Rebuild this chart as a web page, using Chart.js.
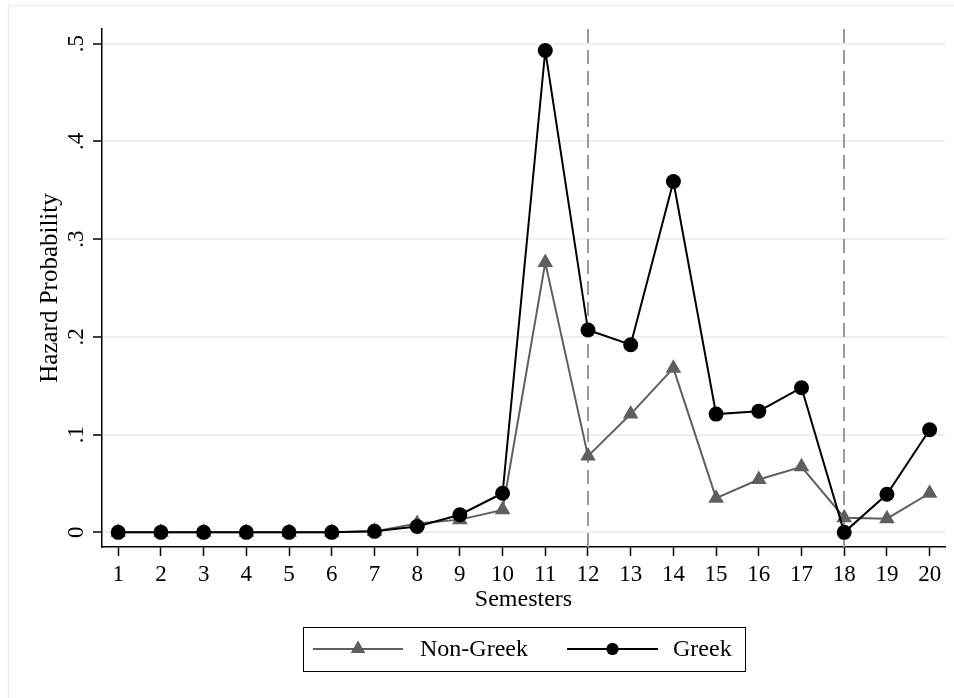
<!DOCTYPE html>
<html>
<head>
<meta charset="utf-8">
<script src="https://cdn.jsdelivr.net/npm/chart.js@4"></script>
<style>
  html, body { margin: 0; padding: 0; background: #fff; }
  #wrap { width: 954px; height: 698px; position: relative; }
</style>
</head>
<body>
<div id="wrap"><canvas id="chart"></canvas></div>
<script>
// values
const semesters = [1, 2, 3, 4, 5, 6, 7, 8, 9, 10, 11, 12, 13, 14, 15, 16, 17, 18, 19, 20];
const greek    = [0, 0, 0, 0, 0, 0, 0.001, 0.006, 0.018, 0.040, 0.493, 0.207, 0.192, 0.359, 0.121, 0.124, 0.148, 0.000, 0.039, 0.105];
const nonGreek = [0, 0, 0, 0, 0, 0, 0.001, 0.009, 0.013, 0.023, 0.276, 0.078, 0.121, 0.168, 0.035, 0.054, 0.067, 0.015, 0.014, 0.040];
const yTicks = [0, 0.1, 0.2, 0.3, 0.4, 0.5];
const refLines = [12, 18];

const FONT = '"Liberation Serif", "Times New Roman", serif';

function fmtY(v) {
  const s = (Math.round(v * 10) / 10).toString();
  return s === '0' ? '0' : s.replace(/^0/, '');
}

// background + faint outer frame, dashed reference lines, rotated y labels, boxed legend
const decor = {
  id: 'decor',
  beforeDraw(chart) {
    const c = chart.ctx;
    c.save();
    c.fillStyle = '#fff';
    c.fillRect(0, 0, chart.width, chart.height);
    c.strokeStyle = '#e9eff1';
    c.lineWidth = 1.5;
    c.strokeRect(8.5, 5.5, chart.width + 20, chart.height + 20);
    c.restore();
  },
  beforeDatasetsDraw(chart) {
    const c = chart.ctx, x = chart.scales.x, area = chart.chartArea;
    c.save();
    c.strokeStyle = '#9a9a9a';
    c.lineWidth = 2;
    c.setLineDash([14, 7]);
    refLines.forEach(v => {
      const px = Math.round(x.getPixelForValue(v));
      c.beginPath();
      c.moveTo(px, area.top);
      c.lineTo(px, area.bottom);
      c.stroke();
    });
    c.restore();
  },
  afterDraw(chart) {
    const c = chart.ctx, y = chart.scales.y;
    c.save();
    // y tick labels, rotated like the original
    c.fillStyle = '#000';
    c.font = '23px ' + FONT;
    c.textAlign = 'center';
    c.textBaseline = 'middle';
    y.ticks.forEach(t => {
      c.save();
      c.translate(77, y.getPixelForValue(t.value));
      c.rotate(-Math.PI / 2);
      c.fillText(fmtY(t.value), 0, 0);
      c.restore();
    });

    // legend
    const bx = 303, by = 627, bw = 442, bh = 44, my = by + bh / 2;
    c.strokeStyle = '#000';
    c.lineWidth = 1;
    c.strokeRect(bx + 0.5, by + 0.5, bw, bh);
    c.font = '24px ' + FONT;
    c.textAlign = 'left';
    const items = [
      { ds: chart.data.datasets[1], x0: 313, x1: 403, tx: 420 },
      { ds: chart.data.datasets[0], x0: 567, x1: 658, tx: 673 }
    ];
    items.forEach(it => {
      c.strokeStyle = it.ds.borderColor;
      c.lineWidth = it.ds.borderWidth;
      c.beginPath();
      c.moveTo(it.x0, my);
      c.lineTo(it.x1, my);
      c.stroke();
      Chart.helpers.drawPoint(c, {
        pointStyle: it.ds.pointStyle, radius: it.ds.legendRadius, rotation: 0, borderWidth: 0
      }, (it.x0 + it.x1) / 2, my);
      c.fillStyle = it.ds.pointBackgroundColor;
      c.fill();
      c.fillStyle = '#000';
      c.fillText(it.ds.label, it.tx, my + 1);
    });
    c.restore();
  }
};

new Chart(document.getElementById('chart'), {
  type: 'line',
  data: {
    labels: semesters,
    datasets: [
      {
        label: 'Greek',
        data: semesters.map((s, i) => ({ x: s, y: greek[i] })),
        borderColor: '#000',
        backgroundColor: '#000',
        pointBackgroundColor: '#000',
        pointBorderWidth: 0,
        borderWidth: 2,
        pointStyle: 'circle',
        pointRadius: 7.5,
        legendRadius: 6,
        tension: 0
      },
      {
        label: 'Non-Greek',
        data: semesters.map((s, i) => ({ x: s, y: nonGreek[i] })),
        borderColor: '#5f5f5f',
        backgroundColor: '#5f5f5f',
        pointBackgroundColor: '#5f5f5f',
        pointBorderWidth: 0,
        borderWidth: 2,
        pointStyle: 'triangle',
        pointRadius: 9,
        legendRadius: 8,
        tension: 0
      }
    ]
  },
  options: {
    responsive: true,
    maintainAspectRatio: false,
    animation: false,
    layout: { padding: { top: 29, right: 9, bottom: 71, left: 0 } },
    plugins: {
      legend: { display: false },
      tooltip: { enabled: false }
    },
    scales: {
      x: {
        type: 'linear',
        min: 0.62,
        max: 20.36,
        afterBuildTicks: s => { s.ticks = semesters.map(v => ({ value: v })); },
        afterFit: s => { s.height = 80; },
        grid: { drawOnChartArea: false, tickLength: 9, tickColor: '#000', tickWidth: 1.5 },
        border: { color: '#000', width: 1.5 },
        ticks: {
          color: '#000',
          font: { family: FONT, size: 23 },
          padding: 5,
          maxRotation: 0,
          autoSkip: false
        },
        title: {
          display: true,
          text: 'Semesters',
          color: '#000',
          font: { family: FONT, size: 24 },
          padding: { top: 0, bottom: 13 }
        }
      },
      y: {
        min: -0.015,
        max: 0.515,
        afterBuildTicks: s => { s.ticks = yTicks.map(v => ({ value: v })); },
        afterFit: s => { s.width = 102; },
        grid: { color: '#e8f0f2', lineWidth: 2, tickLength: 9, tickColor: '#000', tickWidth: 1.5 },
        border: { color: '#000', width: 1.5 },
        ticks: { display: false },
        title: {
          display: true,
          text: 'Hazard Probability',
          color: '#000',
          font: { family: FONT, size: 25 },
          padding: { top: 35, bottom: 0 }
        }
      }
    }
  },
  plugins: [decor]
});
</script>
</body>
</html>
